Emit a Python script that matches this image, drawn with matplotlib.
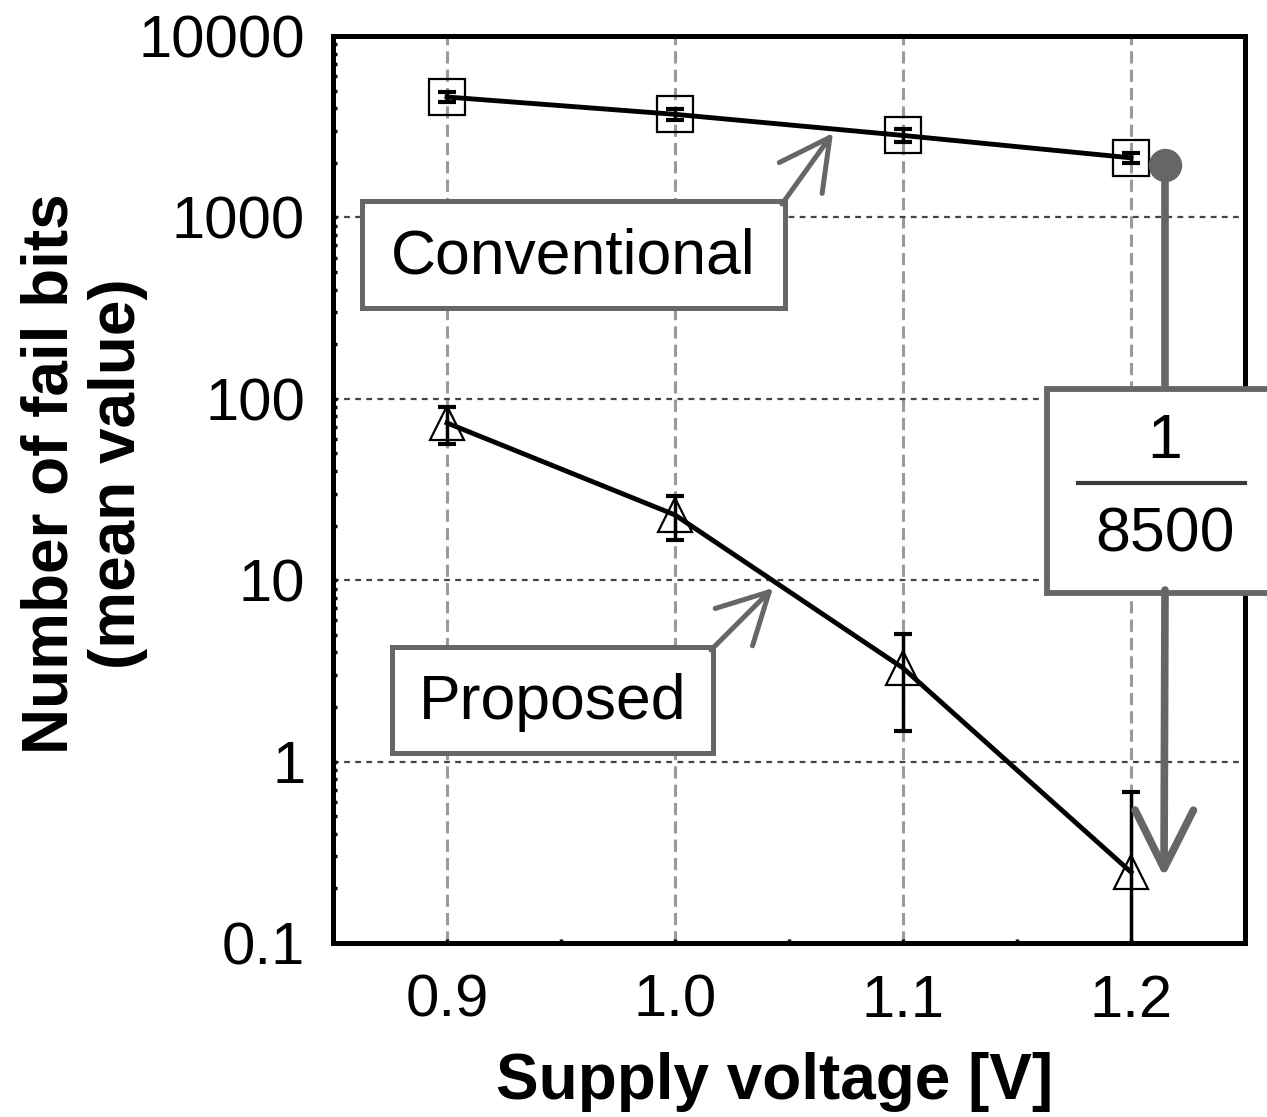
import matplotlib
matplotlib.use("Agg")
import matplotlib.pyplot as plt
from matplotlib.patches import Rectangle, FancyArrowPatch
from matplotlib.lines import Line2D

plt.rcParams['font.family'] = ['Liberation Sans', 'DejaVu Sans']

# ---- data ----
voltage = [0.9, 1.0, 1.1, 1.2]
conv_mean = [4610, 3700, 2830, 2130]
conv_err = [280, 250, 230, 135]
prop_mean = [73.6, 22.9, 3.28, 0.246]
prop_err = [17, 6.2, 1.8, 0.43]
xtick_vals = [0.9, 1.0, 1.1, 1.2]
xtick_labels = ['0.9', '1.0', '1.1', '1.2']
ytick_vals = [0.1, 1, 10, 100, 1000, 10000]
ytick_labels = ['0.1', '1', '10', '100', '1000', '10000']
ratio_num = '1'
ratio_den = '8500'

W, H = 1267, 1117
DPI = 100
fig = plt.figure(figsize=(W / DPI, H / DPI), dpi=DPI)
ax = fig.add_axes([333 / W, 1 - 943 / H, (1245 - 333) / W, (943 - 36) / H])

def fp(x, y):
    return (x / W, 1 - y / H)

ax.set_yscale('log')
ax.set_xlim(0.85, 1.25)
ax.set_ylim(0.1, 10000)

# grid
ax.set_axisbelow(True)
ax.xaxis.grid(True, which='major', color='#9a9a9a', lw=2.2, linestyle=(0, (4, 2)))
ax.yaxis.grid(True, which='major', color='#444444', lw=1.6, linestyle=(0, (2.6, 2.4)))
ax.yaxis.grid(False, which='minor')

# error bars
ax.errorbar(voltage, conv_mean, yerr=conv_err, fmt='none', ecolor='black',
            elinewidth=2.5, capsize=6.5, capthick=3, zorder=3)
ax.errorbar(voltage, prop_mean, yerr=prop_err, fmt='none', ecolor='black',
            elinewidth=2.5, capsize=6.5, capthick=3, zorder=3)

# lines + markers
ax.plot(voltage, conv_mean, color='black', lw=3.5, zorder=4)
ax.plot(voltage, conv_mean, linestyle='none', marker='s', markersize=26.5,
        mfc='none', mec='black', mew=1.6, zorder=4)
ax.plot(voltage, prop_mean, color='black', lw=3.5, zorder=4)
ax.plot(voltage, prop_mean, linestyle='none', marker='^', markersize=25,
        mfc='none', mec='black', mew=1.6, zorder=4)

# ticks
ax.set_xticks(xtick_vals)
ax.set_xticklabels(xtick_labels)
ax.set_xticks([0.95, 1.05, 1.15], minor=True)
ax.set_yticks(ytick_vals)
ax.set_yticklabels(ytick_labels)
ax.tick_params(axis='both', which='both', direction='in', width=2.5, length=3,
               labelsize=43, top=False, right=False)
ax.tick_params(axis='y', which='major', pad=20)
ax.tick_params(axis='x', which='major', pad=22)
for s in ax.spines.values():
    s.set_linewidth(3.6)
    s.set_color('black')

# axis labels
fig.text(*fp(84, 474), 'Number of fail bits\n(mean value)', rotation=90,
         ha='center', va='center', fontsize=46, fontweight='bold',
         multialignment='center', linespacing=1.15)
fig.text(*fp(775, 1082), 'Supply voltage [V]', ha='center', va='center',
         fontsize=46, fontweight='bold')

gray = '#666666'

def box(x0, y0, x1, y1, lw=3.6):
    r = Rectangle(fp(x0, y1), (x1 - x0) / W, (y1 - y0) / H, transform=fig.transFigure,
                  facecolor='white', edgecolor=gray, lw=lw, zorder=6, clip_on=False)
    fig.add_artist(r)

def arrow(p0, p1, lw, hl, hw):
    a = FancyArrowPatch(fp(*p0), fp(*p1), transform=fig.transFigure,
                        arrowstyle=f'->,head_length={hl},head_width={hw}',
                        mutation_scale=1, color=gray, lw=lw, zorder=6,
                        capstyle='round', joinstyle='round', shrinkA=0, shrinkB=0)
    fig.add_artist(a)

# Conventional label
box(362, 201, 785, 308)
fig.text(*fp(573, 257), 'Conventional', ha='center', va='center', fontsize=45, zorder=7)
arrow((782, 204), (833, 133), 3.6, 36, 19)

# Proposed label
box(392, 647, 713, 753)
fig.text(*fp(553, 703), 'Proposed', ha='center', va='center', fontsize=45, zorder=7)
arrow((711, 650), (773, 588), 3.6, 36, 19)

# ratio annotation
fig.add_artist(Line2D([1165 / W, 1165 / W], [1 - 165 / H, 1 - 392 / H],
                      transform=fig.transFigure, color=gray, lw=5.5, zorder=6))
fig.add_artist(Line2D([1165 / W], [1 - 165 / H], transform=fig.transFigure,
                      marker='o', markersize=23, color=gray, zorder=6, lw=0))
box(1047, 389, 1300, 593, lw=4.2)
fig.add_artist(Line2D([1078 / W, 1245 / W], [1 - 483 / H, 1 - 483 / H],
                      transform=fig.transFigure, color='#3a3a3a', lw=3, zorder=7))
fig.text(*fp(1165, 442), ratio_num, ha='center', va='center', fontsize=45, zorder=7)
fig.text(*fp(1165, 535), ratio_den, ha='center', va='center', fontsize=45, zorder=7)
arrow((1165, 590), (1164, 877), 5.5, 42, 21)

fig.savefig('out.png', dpi=DPI)
